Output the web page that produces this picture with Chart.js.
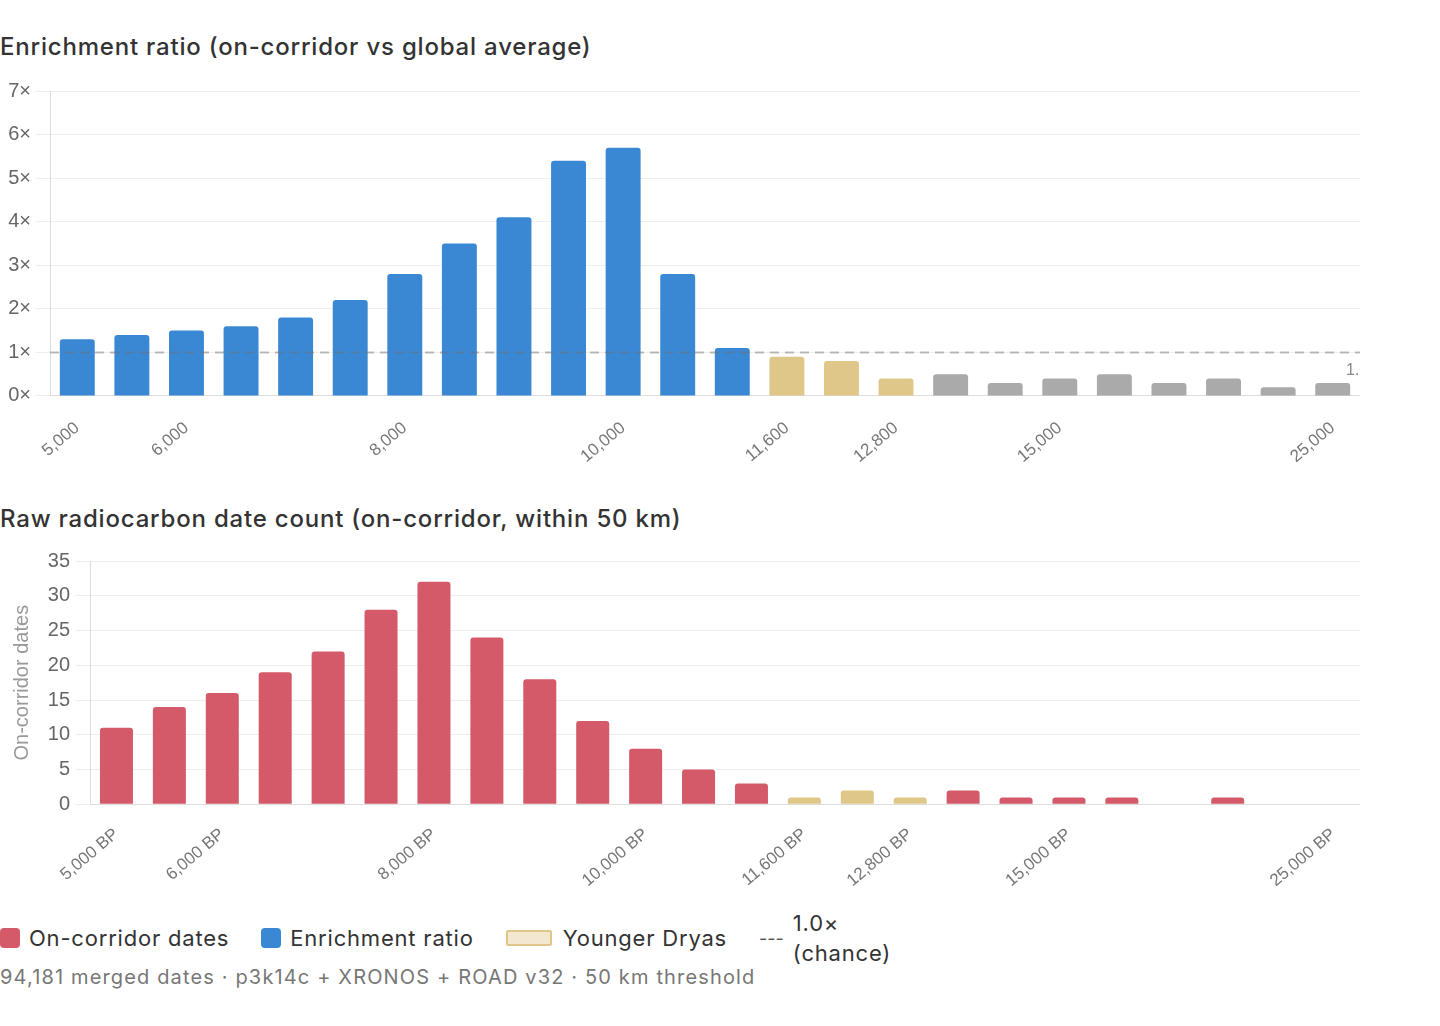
<!DOCTYPE html>
<html>
<head>
    <title>Corridor enrichment</title>
    <script src="https://cdn.jsdelivr.net/npm/chart.js"></script>
    <style>
        body {
            margin: 0;
            padding: 0;
            background: white;
            font-family: 'Inter', 'Noto Sans', sans-serif;
            color: #333;
        }

        .block {
            position: absolute;
            left: 0;
        }

        .title {
            font-size: 24px;
            font-weight: 500;
            line-height: 30px;
            letter-spacing: 0.8px;
            color: #333;
            white-space: nowrap;
        }

        .chart-box {
            width: 1360px;
        }

        .legend {
            display: flex;
            align-items: center;
            font-size: 22px;
            letter-spacing: 0.8px;
            color: #333;
        }

        .legend-item {
            display: flex;
            align-items: center;
            margin-right: 32px;
        }

        .swatch {
            width: 20px;
            height: 20px;
            border-radius: 4px;
            margin-right: 9px;
        }

        .swatch-wide {
            width: 42px;
            height: 12px;
            border-radius: 2px;
            margin-right: 11px;
            background: #f3e8cf;
            border: 2px solid #dfc78a;
        }

        .dashes {
            letter-spacing: 0;
            font-size: 18px;
            margin-right: 9px;
            color: #555;
        }

        .note {
            font-size: 20px;
            letter-spacing: 1.15px;
            color: #777;
            white-space: nowrap;
        }
    </style>
</head>
<body>
    <div class="block title" style="top:32px;">Enrichment ratio (on-corridor vs global average)</div>
    <div class="block chart-box" style="top:74px; height:407px;">
        <canvas id="ratioChart"></canvas>
    </div>

    <div class="block title" style="top:504px;">Raw radiocarbon date count (on-corridor, within 50 km)</div>
    <div class="block chart-box" style="top:543px; height:360px;">
        <canvas id="countChart"></canvas>
    </div>

    <div class="block legend" style="top:908px;">
        <div class="legend-item"><span class="swatch" style="background:#d45a6a;"></span>On-corridor dates</div>
        <div class="legend-item"><span class="swatch" style="background:#3a88d4;"></span>Enrichment ratio</div>
        <div class="legend-item"><span class="swatch-wide"></span>Younger Dryas</div>
        <div class="legend-item"><span class="dashes">---</span><span style="width:100px; line-height:30px;">1.0× (chance)</span></div>
    </div>
    <div class="block note" style="top:965px;">94,181 merged dates · p3k14c + XRONOS + ROAD v32 · 50 km threshold</div>

    <script>
        // bins (years BP)
        const bins = ['5,000', '5,500', '6,000', '6,500', '7,000', '7,500', '8,000', '8,500',
            '9,000', '9,500', '10,000', '10,500', '11,000', '11,600', '12,200', '12,800',
            '13,400', '14,000', '15,000', '16,500', '18,000', '20,000', '22,500', '25,000'];
        const shownTicks = ['5,000', '6,000', '8,000', '10,000', '11,600', '12,800', '15,000', '25,000'];
        const youngerDryas = ['11,600', '12,200', '12,800'];
        const lastHolocene = '11,000';

        const ratioValues = [1.3, 1.4, 1.5, 1.6, 1.8, 2.2, 2.8, 3.5, 4.1, 5.4, 5.7, 2.8, 1.1,
            0.9, 0.8, 0.4, 0.5, 0.3, 0.4, 0.5, 0.3, 0.4, 0.2, 0.3];
        const countValues = [11, 14, 16, 19, 22, 28, 32, 24, 18, 12, 8, 5, 3,
            1, 2, 1, 2, 1, 1, 1, 0, 1, 0, 0];
        const ratioTicks = ['0×', '1×', '2×', '3×', '4×', '5×', '6×', '7×'];
        const chanceLevel = 1;

        const BLUE = '#3a88d4', TAN = '#dfc78a', GRAY = '#aaaaaa', RED = '#d45a6a';
        const cutIdx = bins.indexOf(lastHolocene);

        const ratioColors = bins.map((b, i) => youngerDryas.includes(b) ? TAN : (i <= cutIdx ? BLUE : GRAY));
        const countColors = bins.map(b => youngerDryas.includes(b) ? TAN : RED);

        function xTick(suffix) {
            return function (value) {
                const lab = this.getLabelForValue(value);
                return shownTicks.includes(lab) ? lab + suffix : '';
            };
        }

        const chanceLine = {
            id: 'chanceLine',
            afterDatasetsDraw(chart) {
                const { ctx, chartArea } = chart;
                const y = chart.scales.y.getPixelForValue(chanceLevel);
                ctx.save();
                ctx.beginPath();
                ctx.rect(chartArea.left, chartArea.top, chartArea.right - chartArea.left, chartArea.bottom - chartArea.top);
                ctx.clip();
                ctx.strokeStyle = 'rgba(110,110,110,0.45)';
                ctx.lineWidth = 2;
                ctx.setLineDash([9, 6]);
                ctx.beginPath();
                ctx.moveTo(chartArea.left, y);
                ctx.lineTo(chartArea.right, y);
                ctx.stroke();
                ctx.setLineDash([]);
                ctx.fillStyle = '#888';
                ctx.font = '16px "Liberation Sans", sans-serif';
                ctx.textAlign = 'left';
                ctx.textBaseline = 'middle';
                ctx.fillText('1.0× chance', chartArea.right - 14, y + 18);
                ctx.restore();
            }
        };

        new Chart(document.getElementById('ratioChart'), {
            type: 'bar',
            data: {
                labels: bins,
                datasets: [{
                    label: 'Enrichment ratio',
                    data: ratioValues,
                    backgroundColor: ratioColors,
                    borderRadius: 3,
                    categoryPercentage: 0.8,
                    barPercentage: 0.8
                }]
            },
            options: {
                responsive: true,
                maintainAspectRatio: false,
                animation: false,
                plugins: { legend: { display: false }, tooltip: { enabled: false } },
                scales: {
                    x: {
                        grid: { display: false },
                        border: { color: '#ddd' },
                        ticks: {
                            autoSkip: false,
                            minRotation: 40,
                            maxRotation: 40,
                            padding: 14,
                            color: '#777',
                            font: { family: 'Liberation Sans', size: 17 },
                            callback: xTick('')
                        }
                    },
                    y: {
                        min: 0,
                        max: 7,
                        afterFit: axis => { axis.width = 50; },
                        grid: { color: '#eeeeee', tickLength: 14 },
                        border: { color: '#ddd' },
                        ticks: {
                            stepSize: 1,
                            padding: 5,
                            color: '#666',
                            font: { family: 'Liberation Sans', size: 20 },
                            callback: v => ratioTicks[v]
                        }
                    }
                }
            },
            plugins: [chanceLine]
        });

        new Chart(document.getElementById('countChart'), {
            type: 'bar',
            data: {
                labels: bins,
                datasets: [{
                    label: 'On-corridor dates',
                    data: countValues,
                    backgroundColor: countColors,
                    borderRadius: 3,
                    categoryPercentage: 0.8,
                    barPercentage: 0.78
                }]
            },
            options: {
                responsive: true,
                maintainAspectRatio: false,
                animation: false,
                plugins: { legend: { display: false }, tooltip: { enabled: false } },
                scales: {
                    x: {
                        grid: { display: false },
                        border: { color: '#ddd' },
                        ticks: {
                            autoSkip: false,
                            minRotation: 40,
                            maxRotation: 40,
                            padding: 12,
                            color: '#777',
                            font: { family: 'Liberation Sans', size: 17 },
                            callback: xTick(' BP')
                        }
                    },
                    y: {
                        min: 0,
                        max: 35,
                        afterFit: axis => { axis.width = 90; },
                        grid: { color: '#eeeeee', tickLength: 14 },
                        border: { color: '#ddd' },
                        title: {
                            display: true,
                            text: 'On-corridor dates',
                            color: '#999',
                            padding: { top: 10, bottom: 0 },
                            font: { family: 'Liberation Sans', size: 20 }
                        },
                        ticks: {
                            stepSize: 5,
                            padding: 6,
                            color: '#666',
                            font: { family: 'Liberation Sans', size: 20 }
                        }
                    }
                }
            }
        });
    </script>
</body>
</html>
